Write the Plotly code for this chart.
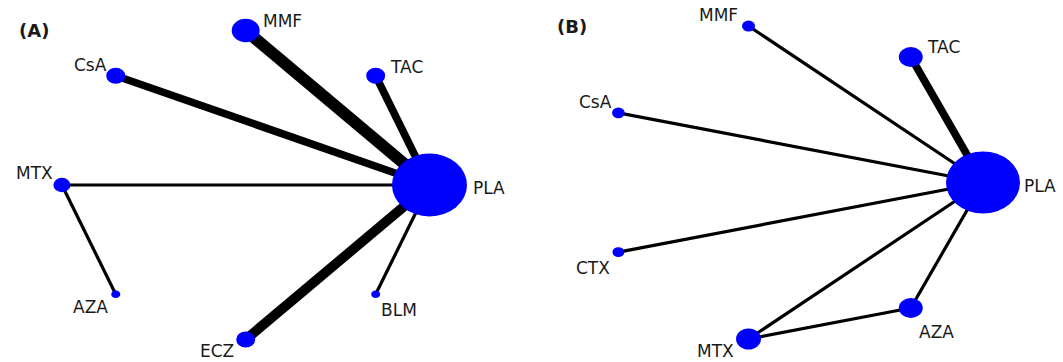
import math
import plotly.graph_objects as go

# ---------------- data ----------------
# Panel A network (nodes listed in circular order, starting at PLA)
nodes_A = ["PLA", "TAC", "MMF", "CsA", "MTX", "AZA", "ECZ", "BLM"]
patients_A = [560, 36, 78, 36, 29, 8, 36, 8]
edges_A_from = ["PLA", "PLA", "PLA", "PLA", "PLA", "PLA", "MTX"]
edges_A_to = ["MMF", "CsA", "TAC", "MTX", "ECZ", "BLM", "AZA"]
edges_A_studies = [5, 3, 3, 1, 4, 1, 1]

# Panel B network
nodes_B = ["PLA", "TAC", "MMF", "CsA", "CTX", "MTX", "AZA"]
patients_B = [545, 57, 17, 16, 14, 62, 57]
edges_B_from = ["PLA", "PLA", "PLA", "PLA", "PLA", "PLA", "MTX"]
edges_B_to = ["MMF", "TAC", "CsA", "CTX", "MTX", "AZA", "AZA"]
edges_B_studies = [1, 3, 1, 1, 1, 1, 1]

panel_titles = ["(A)", "(B)"]

# ---------------- styling / layout ----------------
W, H = 1063, 362
NODE_COLOR = "#0000ff"
EDGE_COLOR = "#000000"
LABEL_FONT = dict(family="DejaVu Sans", size=17, color="#1a1a1a")

# pixel geometry of each circular layout: (centre x, centre y, radius x, radius y)
geom = {
    "A": dict(cx=245.7, cy=185.0, rx=183.8, ry=154.5, dom=(0.0, 0.5)),
    "B": dict(cx=791.2, cy=182.5, rx=191.8, ry=160.5, dom=(0.5, 1.0)),
}

# label placement: (xanchor, xshift px, yshift px) relative to node centre
label_pos_A = {
    "PLA": ("left", 41, -3), "TAC": ("left", 12, 9), "MMF": ("left", 15, 10),
    "CsA": ("right", -7, 11), "MTX": ("right", -7, 12), "AZA": ("right", -6, -13),
    "ECZ": ("right", -10, -11), "BLM": ("left", 3, -16),
}
label_pos_B = {
    "PLA": ("left", 39, -3), "TAC": ("left", 14, 10), "MMF": ("right", -9, 11),
    "CsA": ("right", -4, 11), "CTX": ("right", -6, -16), "MTX": ("right", -13, -12),
    "AZA": ("left", 6, -24),
}

SIZE_K = 3.17      # node width px per sqrt(patients)
ASPECT = 0.84      # node height / width
EDGE_BASE, EDGE_K = 1.0, 2.2

fig = go.Figure()
shapes = []
annotations = []


def build(key, nodes, patients, e_from, e_to, e_w, labels, xa, ya):
    g = geom[key]
    d0, d1 = g["dom"]
    dom_px = (d1 - d0) * W
    local_cx = g["cx"] - d0 * W
    x0 = -local_cx / g["rx"]
    x1 = x0 + dom_px / g["rx"]
    y1 = g["cy"] / g["ry"]
    y0 = y1 - H / g["ry"]
    n = len(nodes)
    pos = {}
    for i, name in enumerate(nodes):
        ang = 2 * math.pi * i / n
        pos[name] = (math.cos(ang), math.sin(ang))
    # edges
    for a, b, s in zip(e_from, e_to, e_w):
        fig.add_trace(go.Scatter(
            x=[pos[a][0], pos[b][0]], y=[pos[a][1], pos[b][1]],
            mode="lines", line=dict(color=EDGE_COLOR, width=EDGE_BASE + EDGE_K * s),
            hoverinfo="skip", showlegend=False, xaxis=xa, yaxis=ya))
    # nodes as ellipses
    for name, p in zip(nodes, patients):
        w = SIZE_K * math.sqrt(p)
        h = w * ASPECT
        dx = w / 2 / g["rx"]
        dy = h / 2 / g["ry"]
        x, y = pos[name]
        shapes.append(dict(type="circle", xref=xa, yref=ya,
                           x0=x - dx, x1=x + dx, y0=y - dy, y1=y + dy,
                           fillcolor=NODE_COLOR, line=dict(width=0), layer="above"))
        anc, xs, ys = labels[name]
        annotations.append(dict(x=x, y=y, xref=xa, yref=ya, text=name,
                                showarrow=False, xanchor=anc, yanchor="middle",
                                xshift=xs, yshift=ys, font=LABEL_FONT))
    return (x0, x1), (y0, y1)


rxA, ryA = build("A", nodes_A, patients_A, edges_A_from, edges_A_to, edges_A_studies,
                 label_pos_A, "x", "y")
rxB, ryB = build("B", nodes_B, patients_B, edges_B_from, edges_B_to, edges_B_studies,
                 label_pos_B, "x2", "y2")

title_font = dict(family="DejaVu Sans", size=18, color="#1a1a1a")
annotations.append(dict(x=34 / W, y=1 - 30 / H, xref="paper", yref="paper",
                        text="<b>" + panel_titles[0] + "</b>", showarrow=False,
                        xanchor="center", yanchor="middle", font=title_font))
annotations.append(dict(x=572 / W, y=1 - 27 / H, xref="paper", yref="paper",
                        text="<b>" + panel_titles[1] + "</b>", showarrow=False,
                        xanchor="center", yanchor="middle", font=title_font))

axis_common = dict(visible=False, showgrid=False, zeroline=False, fixedrange=True)
fig.update_layout(
    width=W, height=H,
    margin=dict(l=0, r=0, t=0, b=0),
    paper_bgcolor="white", plot_bgcolor="white",
    xaxis=dict(domain=list(geom["A"]["dom"]), range=list(rxA), **axis_common),
    yaxis=dict(domain=[0, 1], range=list(ryA), **axis_common),
    xaxis2=dict(domain=list(geom["B"]["dom"]), range=list(rxB), **axis_common),
    yaxis2=dict(domain=[0, 1], range=list(ryB), anchor="x2", **axis_common),
    shapes=shapes,
    annotations=annotations,
    showlegend=False,
)

fig.write_html("out.html", config={"displayModeBar": False},
               post_script="document.body.style.margin='0px';document.body.style.overflow='hidden';")
